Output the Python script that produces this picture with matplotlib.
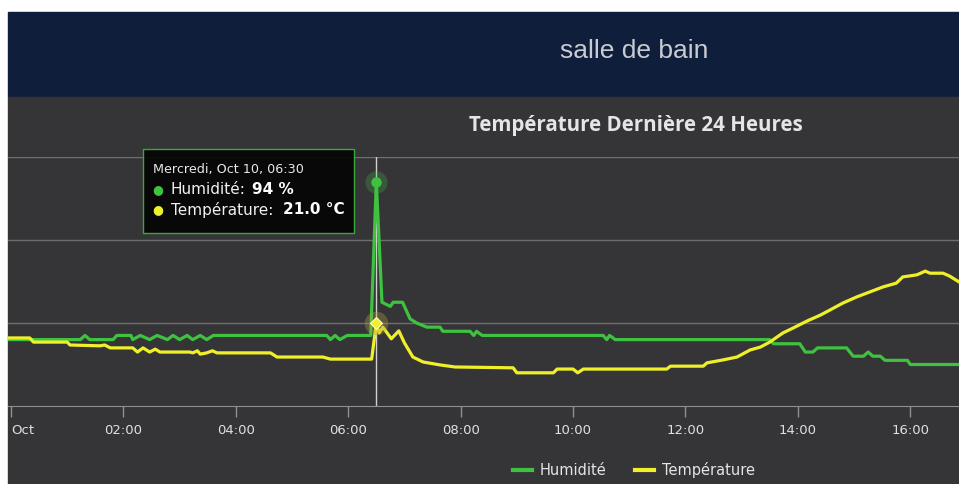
import matplotlib
matplotlib.use('Agg')
import matplotlib.pyplot as plt
from matplotlib.patches import Rectangle
from matplotlib.lines import Line2D

# time in minutes since midnight (Oct 10)
hum_min = [-3, 74, 79, 84, 109, 113, 128, 130, 138, 148, 156, 167, 173, 180, 188, 194, 202, 209, 216, 337,
           341, 346, 351, 359, 384, 390, 396, 405, 408, 418, 426, 433, 444, 458, 461, 490, 494, 497, 503, 632,
           636, 639, 645, 810, 814, 842, 848, 856, 861, 892, 899, 910, 915, 920, 928, 933, 957, 960, 1012]
hum_val = [56, 56, 57, 56, 56, 57, 57, 56, 57, 56, 57, 56, 57, 56, 57, 56, 57, 56, 57, 57,
           56, 57, 56, 57, 57, 94, 65, 64, 65, 65, 61, 60, 59, 59, 58, 58, 57, 58, 57, 57,
           56, 57, 56, 56, 55, 55, 53, 53, 54, 54, 52, 52, 53, 52, 52, 51, 51, 50, 50]

temp_min = [-3, 20, 24, 60, 63, 95, 100, 106, 130, 135, 141, 148, 154, 159, 191, 194, 199, 202, 209, 215,
            220, 277, 284, 333, 341, 385, 390, 393, 397, 406, 414, 420, 429, 440, 458, 474, 536, 540, 579, 583,
            600, 605, 611, 700, 704, 739, 743, 760, 775, 789, 800, 810, 824, 835, 850, 864, 874, 888, 903, 917,
            931, 945, 952, 967, 976, 981, 995, 1002, 1012]
temp_val = [20.64, 20.64, 20.54, 20.54, 20.47, 20.45, 20.47, 20.40, 20.40, 20.30, 20.40, 20.30, 20.37, 20.30,
            20.30, 20.28, 20.33, 20.25, 20.28, 20.33, 20.28, 20.28, 20.18, 20.18, 20.13, 20.13, 21.00, 20.76,
            20.90, 20.62, 20.81, 20.52, 20.18, 20.06, 19.99, 19.94, 19.92, 19.80, 19.80, 19.89, 19.89, 19.80,
            19.89, 19.89, 19.96, 19.96, 20.04, 20.11, 20.18, 20.35, 20.42, 20.54, 20.76, 20.88, 21.05, 21.19,
            21.31, 21.48, 21.63, 21.75, 21.87, 21.96, 22.11, 22.16, 22.25, 22.20, 22.20, 22.13, 21.99]

tick_min = [0, 120, 240, 360, 480, 600, 720, 840, 960]
tick_labels = ['Oct', '02:00', '04:00', '06:00', '08:00', '10:00', '12:00', '14:00', '16:00']

hover_min = 390
hover_hum = 94
hover_temp = 21.0
hover_label = 'Mercredi, Oct 10, 06:30'

GREEN = '#3fc23f'
YELLOW = '#f0f02a'
BG = '#353537'
NAVY = '#0e1e3b'
W, H = 959, 484


def px(x, y):
  return x / W, 1 - y / H


fig = plt.figure(figsize=(W / 100, H / 100), dpi=100, facecolor='white')

# banner + chart background (behind the axes)
fig.patches.append(Rectangle(px(8, 97), (W - 8) / W, 85 / H, transform=fig.transFigure, color=NAVY, zorder=-5))
fig.patches.append(Rectangle(px(8, H), (W - 8) / W, (H - 97) / H, transform=fig.transFigure, color=BG, zorder=-5))
fig.text(*px(634, 51), 'salle de bain', color='#c9cbd3', fontsize=19, family='Liberation Sans',
         ha='center', va='center')
fig.text(*px(636, 125), 'Température Dernière 24 Heures', color='#e4e4ea', fontsize=14.8,
         family='Open Sans', weight='bold', ha='center', va='center')

x0, y0 = px(8, 406)
ax = fig.add_axes([x0, y0, 1 - x0, (406 - 157) / H])
ax.set_facecolor('none')
ax.plot(hum_min, hum_val, color=GREEN, lw=2.3, solid_joinstyle='round', zorder=3)
ax.set_ylim(40, 100)
ax.set_yticks([60, 80, 100])
ax.set_xlim(-3.2, 1012)
ax.grid(axis='y', color='#6e6e70', lw=1)
ax.tick_params(axis='y', length=0, labelleft=False)
ax.set_xticks(tick_min)
ax.set_xticklabels(tick_labels, color='#e0e0e0', fontsize=9.5, family='DejaVu Sans')
ax.get_xticklabels()[0].set_ha('left')
ax.tick_params(axis='x', length=8, width=1, color='#909092', pad=5)
for s in ['top', 'left', 'right']:
  ax.spines[s].set_visible(False)
ax.spines['bottom'].set_color('#909092')
ax.axvline(hover_min, color='#cfcfcf', lw=1, zorder=2)
ax.plot(hover_min, hover_hum, 'o', ms=16, color=GREEN, alpha=0.25, mec='none', zorder=4)
ax.plot(hover_min, hover_hum, 'o', ms=7.5, color=GREEN, mec='none', zorder=5)

ax2 = ax.twinx()
ax2.set_ylim(19, 25)
ax2.set_xlim(-3.2, 1012)
ax2.plot(temp_min, temp_val, color=YELLOW, lw=2.3, solid_joinstyle='round', zorder=3)
ax2.plot(hover_min, hover_temp, 'o', ms=17, color='#b0a040', alpha=0.35, mec='none', zorder=4)
ax2.plot(hover_min, hover_temp, 'D', ms=6.5, color=YELLOW, mec='#fffbd0', mew=0.8, zorder=5)
ax2.axis('off')

# tooltip
fig.patches.append(Rectangle(px(143, 233), 211 / W, 84 / H, transform=fig.transFigure,
                             facecolor='#050505', edgecolor='#3cb43c', lw=1, alpha=0.92, zorder=10))
fig.text(*px(153, 170), hover_label, color='#e8e8e8', fontsize=9.2, va='center', zorder=11)
fig.text(*px(158, 190), '●', color=GREEN, fontsize=9, ha='center', va='center', zorder=11)
fig.text(*px(171, 190), 'Humidité:', color='#f0f0f0', fontsize=11, va='center', zorder=11)
fig.text(*px(252, 190), '%d %%' % hover_hum, color='#ffffff', fontsize=11, weight='bold', va='center', zorder=11)
fig.text(*px(158, 210), '●', color=YELLOW, fontsize=9, ha='center', va='center', zorder=11)
fig.text(*px(171, 210), 'Température:', color='#f0f0f0', fontsize=11, va='center', zorder=11)
fig.text(*px(283, 210), '%.1f °C' % hover_temp, color='#ffffff', fontsize=11, weight='bold', va='center', zorder=11)

handles = [Line2D([], [], color=GREEN, lw=3), Line2D([], [], color=YELLOW, lw=3)]
leg = fig.legend(handles, ['Humidité', 'Température'], loc='center', bbox_to_anchor=px(634, 470), ncol=2,
                 frameon=False, fontsize=10.5, handlelength=1.3, handletextpad=0.5, columnspacing=2.0)
for t in leg.get_texts():
  t.set_color('#e4e4e4')

fig.savefig('out.png', dpi=100, facecolor='white')
